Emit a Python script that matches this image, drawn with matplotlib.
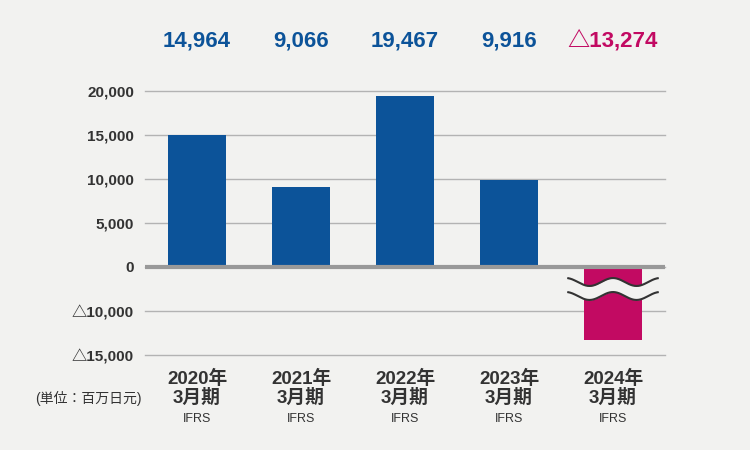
import numpy as np
import matplotlib
matplotlib.use("Agg")
import matplotlib.pyplot as plt

# Data (million yen), fiscal years ending March
years = ["2020年", "2021年", "2022年", "2023年", "2024年"]
sub_labels = ["3月期", "3月期", "3月期", "3月期", "3月期"]
standards = ["IFRS", "IFRS", "IFRS", "IFRS", "IFRS"]
values = [14964, 9066, 19467, 9916, -13274]
tick_values = [20000, 15000, 10000, 5000, 0, -10000, -15000]

BLUE = "#0c5399"
MAGENTA = "#c20a62"
BG = "#f2f2f0"
TEXT = "#333333"

plt.rcParams["font.family"] = ["Liberation Sans", "Noto Sans CJK JP", "DejaVu Sans"]


def fmt(v):
    return f"{v:,}" if v >= 0 else f"△{-v:,}"


# broken axis: 0..-10,000 is squeezed to half, below that the normal scale
def forward(v):
    v = np.asarray(v, dtype=float)
    return np.where(v >= 0, v, np.where(v >= -10000, v / 2, v + 5000))


def inverse(d):
    d = np.asarray(d, dtype=float)
    return np.where(d >= 0, d, np.where(d >= -5000, d * 2, d - 5000))


fig = plt.figure(figsize=(7.5, 4.5), dpi=100, facecolor=BG)
ax = fig.add_axes([145 / 750, 95 / 450, 520 / 750, 264 / 450])
ax.set_facecolor(BG)
ax.set_yscale("function", functions=(forward, inverse))
ax.set_ylim(-15000, 20000)
ax.set_xlim(-0.5, len(values) - 0.5)

x = np.arange(len(values))
colors = [BLUE if v >= 0 else MAGENTA for v in values]
ax.bar(x, values, width=0.56, color=colors, zorder=2)

ax.set_yticks(tick_values, [fmt(v) for v in tick_values])
ax.grid(axis="y", color="#b3b3b3", lw=1)
ax.set_axisbelow(True)
for gl in ax.get_ygridlines():
    gl.set_clip_on(False)
ax.axhline(0, color="#999999", lw=3, zorder=3)
for s in ax.spines.values():
    s.set_visible(False)
ax.tick_params(axis="y", length=0, pad=8, labelsize=11, labelcolor=TEXT)
for t in ax.get_yticklabels():
    t.set_fontweight("bold")
ax.set_xticks([])

tr = ax.get_xaxis_transform()
for i, v in enumerate(values):
    ax.text(i, 1.189, fmt(v), transform=tr, ha="center", va="center",
            fontsize=16, fontweight="bold", color=colors[i])
    ax.text(i, -0.09, years[i], transform=tr, ha="center", va="center",
            fontsize=13.5, fontweight="bold", color=TEXT)
    ax.text(i, -0.162, sub_labels[i], transform=tr, ha="center", va="center",
            fontsize=13.5, fontweight="bold", color=TEXT)
    ax.text(i, -0.243, standards[i], transform=tr, ha="center", va="center",
            fontsize=9, color=TEXT)

fig.text(35 / 750, 1 - 398 / 450, "(単位：百万日元)", ha="left", va="center",
         fontsize=10, color=TEXT)

# wave break mark over the negative bar
neg = len(values) - 1
xs = np.linspace(neg - 0.43, neg + 0.43, 200)
wave = 0.015 * np.cos(2 * np.pi * (xs - neg) / 0.452)
upper = 0.2765 + wave
lower = 0.2235 + wave
ax.fill_between(xs, lower, upper, color=BG, transform=tr, zorder=4, lw=0)
ax.plot(xs, upper, color="#333333", lw=1.5, transform=tr, zorder=5)
ax.plot(xs, lower, color="#333333", lw=1.5, transform=tr, zorder=5)

fig.savefig("out.png", dpi=100, facecolor=BG)
